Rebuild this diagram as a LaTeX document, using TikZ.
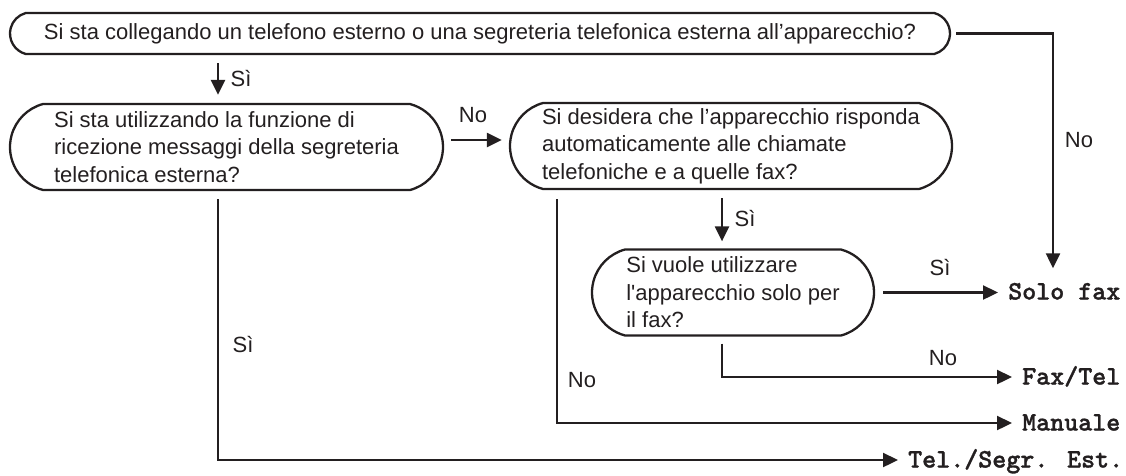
\documentclass[tikz,border=0pt]{standalone}
\usepackage{fontspec}
\setmainfont{Liberation Sans}[Ligatures=TeXOff]
\newfontfamily\resfont{lmmonolt10-bold.otf}[FakeBold=1.2]
\usetikzlibrary{shapes.misc, arrows.meta}
\definecolor{ink}{RGB}{35,31,32}
\tikzset{
  ask/.style={draw=ink, line width=2.3pt, rounded rectangle, rounded rectangle arc length=150,
    inner sep=0pt, minimum height=86pt, align=left, text=ink, font=\fontsize{22}{27.5}\selectfont},
  res/.style={font=\fontsize{26.7}{26.7}\selectfont\resfont, inner sep=0pt,
    text height=15pt, text depth=0pt, anchor=west, text=ink},
  lbl/.style={font=\fontsize{22}{24}\selectfont, inner sep=0pt, text=ink},
  wire/.style={draw=ink, line width=2.3pt},
  arr/.style={wire, -{Triangle[length=15pt, width=14pt]}},
}
\begin{document}
\begin{tikzpicture}[x=1pt, y=-1pt]
	\useasboundingbox (0,0) rectangle (1126,475);
	% Questions and modes:
	\node[ask, minimum height=41pt, minimum width=940pt] (q1) at (480, 33.5){Si sta collegando un telefono esterno o una segreteria telefonica esterna all’apparecchio?};
	\node[ask, minimum width=433pt] (q2) at (226.5, 147){Si sta utilizzando la funzione di\\ricezione messaggi della segreteria\\telefonica esterna?};
	\node[ask, minimum width=442pt] (q3) at (731, 146){Si desidera che l’apparecchio risponda\\automaticamente alle chiamate\\telefoniche e a quelle fax?};
	\node[ask, minimum width=282pt] (q4) at (733, 292.5){Si vuole utilizzare\\l'apparecchio solo per\\il fax?};
	\node[res] (sf) at (1008, 292){Solo fax};
	\node[res] (ft) at (1022, 377){Fax/Tel};
	\node[res] (ma) at (1022, 423){Manuale};
	\node[res] (te) at (908, 460){Tel./Segr. Est.};
	\coordinate (xa) at (218, 0);
	\coordinate (xb) at (557, 0);
	\coordinate (xc) at (722, 0);
	\coordinate (xd) at (1053, 0);
	% Arrows:
	\draw[arr, shorten <=8pt, shorten >=8pt] (q1.south -| xa) -- (q2.north -| xa);
	\draw[arr, shorten <=7pt, shorten >=7pt] ([yshift=7pt]q2.east) -- ([yshift=7pt]q2.east -| q3.west);
	\draw[arr, shorten <=5pt, shorten >=16pt] (q1.east) -| (xd |- sf.north);
	\draw[arr, shorten <=8pt, shorten >=7pt] (q3.south -| xc) -- (q4.north -| xc);
	\draw[arr, shorten <=8pt, shorten >=10pt] (q4.east) -- (q4.east -| sf.west);
	\draw[arr, shorten <=7pt, shorten >=10pt] (q4.south -| xc) |- (ft.west);
	\draw[arr, shorten <=9pt, shorten >=10pt] (q3.south -| xb) |- (ma.west);
	\draw[arr, shorten <=8pt, shorten >=10pt] (q2.south -| xa) |- (te.west);
	% Labels:
	\node[lbl] (l1) at (241, 79){Sì};
	\node[lbl] (l2) at (473, 115){No};
	\node[lbl] (l3) at (1079, 140){No};
	\node[lbl] (l4) at (745, 218){Sì};
	\node[lbl] (l5) at (940, 267){Sì};
	\node[lbl] (l6) at (943, 358){No};
	\node[lbl] (l7) at (582, 380){No};
	\node[lbl] (l8) at (243, 344){Sì};
\end{tikzpicture}
\end{document}
